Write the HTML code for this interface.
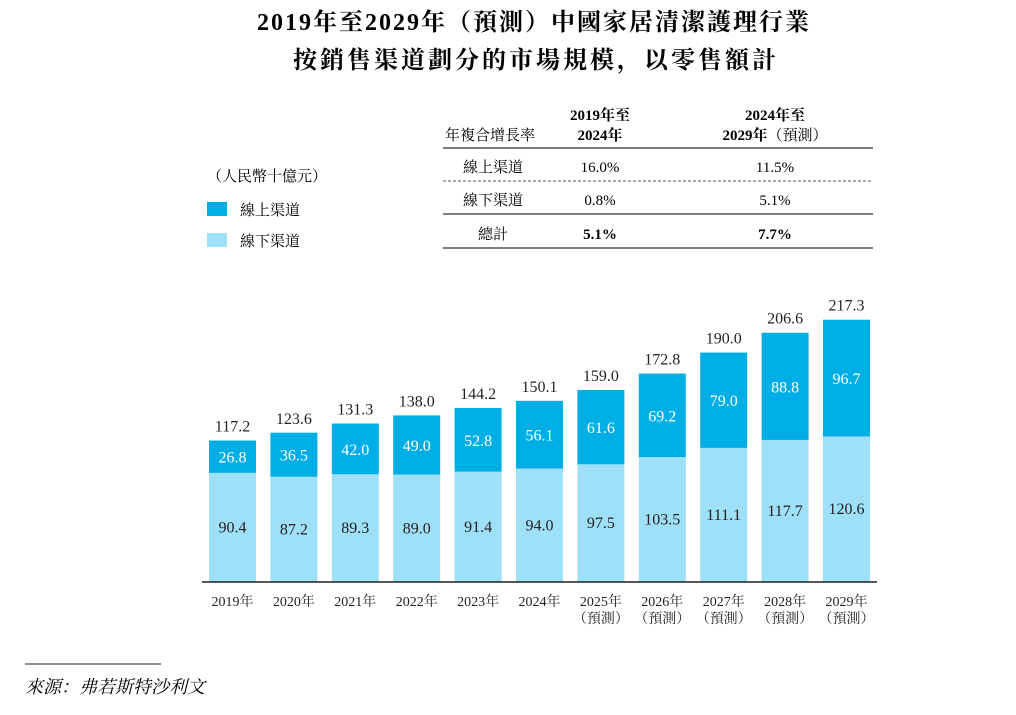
<!DOCTYPE html>
<html><head><meta charset="utf-8"><style>
body{margin:0;width:1016px;height:710px;background:#fff;overflow:hidden;font-family:"Liberation Serif","Noto Serif CJK SC",serif;color:#231f20}
svg text{font-family:"Liberation Serif","Noto Serif CJK SC",serif}
</style></head><body>
<svg width="1016" height="710" viewBox="0 0 1016 710">
<text x="534" y="30" text-anchor="middle" font-size="24" letter-spacing="2" font-weight="bold">2019年至2029年（預測）中國家居清潔護理行業</text>
<text x="536" y="68" text-anchor="middle" font-size="24" letter-spacing="3" font-weight="bold">按銷售渠道劃分的市場規模，以零售額計</text>
<g font-size="15">
<text x="207" y="181">（人民幣十億元）</text>
<rect x="207" y="202" width="20" height="14" fill="#00aee6"/>
<text x="240" y="215">線上渠道</text>
<rect x="207" y="233" width="20" height="14" fill="#9de0f7"/>
<text x="240" y="246">線下渠道</text>
</g>
<g font-size="15">
<text x="600" y="120" text-anchor="middle" font-weight="bold">2019年至</text>
<text x="600" y="140" text-anchor="middle" font-weight="bold">2024年</text>
<text x="775" y="120" text-anchor="middle" font-weight="bold">2024年至</text>
<text x="775" y="140" text-anchor="middle"><tspan font-weight="bold">2029年</tspan>（預測）</text>
<text x="445" y="140">年複合增長率</text>
<line x1="443" y1="148" x2="873" y2="148" stroke="#555" stroke-width="1.5"/>
<text x="493" y="172" text-anchor="middle">線上渠道</text><text x="600" y="172" text-anchor="middle">16.0%</text><text x="775" y="172" text-anchor="middle">11.5%</text>
<line x1="443" y1="181" x2="873" y2="181" stroke="#555" stroke-dasharray="3,2"/>
<text x="493" y="205" text-anchor="middle">線下渠道</text><text x="600" y="205" text-anchor="middle">0.8%</text><text x="775" y="205" text-anchor="middle">5.1%</text>
<line x1="443" y1="214" x2="873" y2="214" stroke="#555" stroke-width="1.5"/>
<text x="493" y="239" text-anchor="middle">總計</text><text x="600" y="239" text-anchor="middle" font-weight="bold">5.1%</text><text x="775" y="239" text-anchor="middle" font-weight="bold">7.7%</text>
<line x1="443" y1="248" x2="873" y2="248" stroke="#555" stroke-width="1.5"/>
</g>
<g id="bars"></g>
<line x1="202" y1="582" x2="877" y2="582" stroke="#231f20" stroke-width="1.5"/>
<line x1="25" y1="664" x2="161" y2="664" stroke="#231f20" stroke-width="1"/>
<text x="25" y="693" font-size="18" font-style="italic">來源：弗若斯特沙利文</text>
</svg>
<script>
const years=["2019年","2020年","2021年","2022年","2023年","2024年","2025年","2026年","2027年","2028年","2029年"];
const forecast=[false,false,false,false,false,false,true,true,true,true,true];
const offline=[90.4,87.2,89.3,89.0,91.4,94.0,97.5,103.5,111.1,117.7,120.6];
const online=[26.8,36.5,42.0,49.0,52.8,56.1,61.6,69.2,79.0,88.8,96.7];
const totals=[117.2,123.6,131.3,138.0,144.2,150.1,159.0,172.8,190.0,206.6,217.3];
const NS="http://www.w3.org/2000/svg";
const base=582,k=1.207,x0=232.5,step=61.4,bw=47;
const xs=i=>x0+i*step;const ys=v=>v*k;
const g=document.getElementById('bars');
function mk(t,a,txt){const e=document.createElementNS(NS,t);for(const n in a)e.setAttribute(n,a[n]);if(txt!=null)e.textContent=txt;g.appendChild(e);return e;}
years.forEach((y,i)=>{
 const cx=xs(i),ho=ys(offline[i]),hn=ys(online[i]);
 let r=mk('rect',{x:cx-bw/2,y:base-ho,width:bw,height:ho,fill:'#9de0f7'});
 
 
 r=mk('rect',{x:cx-bw/2,y:base-ho-hn,width:bw,height:hn,fill:'#00aee6'});
 
 
 let t=mk('text',{x:cx,y:base-ho/2+5,'text-anchor':'middle','font-size':16,fill:'#231f20'},offline[i].toFixed(1));
 
 
 t=mk('text',{x:cx,y:base-ho-hn/2+6,'text-anchor':'middle','font-size':16,fill:'#fff'},online[i].toFixed(1));
 
 
 t=mk('text',{x:cx,y:base-ys(totals[i])-9,'text-anchor':'middle','font-size':16,fill:'#231f20'},totals[i].toFixed(1));
 
 
 t=mk('text',{x:cx,y:606,'text-anchor':'middle','font-size':14,fill:'#231f20'},y);
 
 
 if(forecast[i]){t=mk('text',{x:cx,y:623,'text-anchor':'middle','font-size':14,fill:'#231f20'},'（預測）');
 
 }
});
</script>
</body></html>
